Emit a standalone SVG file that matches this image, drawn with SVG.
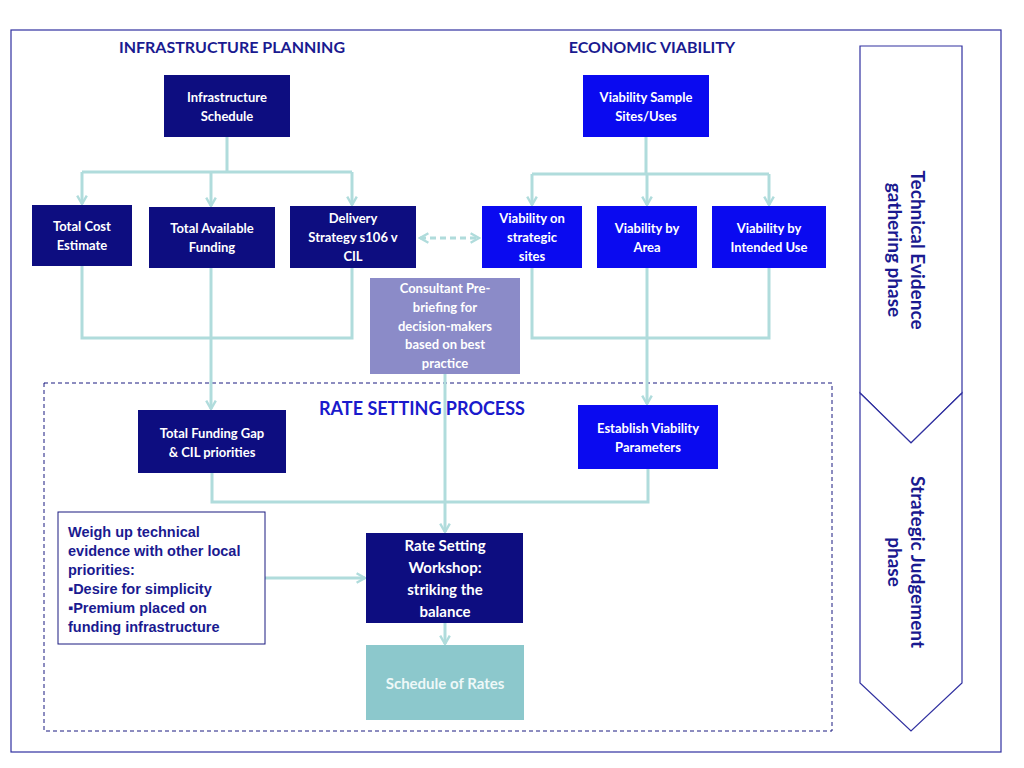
<svg xmlns="http://www.w3.org/2000/svg" width="1024" height="768" viewBox="0 0 1024 768">
<defs>
<marker id="ah" viewBox="0 0 10 10" refX="8" refY="5" markerWidth="4" markerHeight="4" orient="auto-start-reverse"><path d="M1,1 L8,5 L1,9" fill="none" stroke="#b0dcdc" stroke-width="2"/></marker>
<style>
text{font-family:Lato,"Open Sans",sans-serif;font-weight:bold;}
.n{fill:#0d0d80}.b{fill:#0a0af0}
.w{fill:#fff;font-size:13px;text-anchor:middle}
.c{fill:none;stroke:#b0dcdc;stroke-width:3}
.h{fill:#1a1a90;font-size:16px;text-anchor:middle}
</style>
</defs>
<rect width="1024" height="768" fill="#fff"/>
<rect x="11" y="30" width="990" height="722" fill="none" stroke="#3030a0" stroke-width="1.2"/>
<rect x="44" y="383" width="788" height="348" fill="none" stroke="#1a1a80" stroke-dasharray="4,3"/>
<text class="h" x="232" y="53">INFRASTRUCTURE PLANNING</text>
<text class="h" x="652" y="53">ECONOMIC VIABILITY</text>
<text x="422" y="415" style="fill:#1a1acc;font-size:18px;text-anchor:middle">RATE SETTING PROCESS</text>
<g id="phases" fill="#fff" stroke="#3030a0" stroke-width="1.2">
<path d="M860,46 H962 V393 L911,443 L860,393 Z"/>
<path d="M860,393 L911,443 L962,393 V683 L911,731 L860,683 Z"/>
</g>
<text transform="translate(905,250) rotate(90)" style="fill:#1a1a90;font-size:19px;text-anchor:middle"><tspan x="0" y="-6">Technical Evidence</tspan><tspan x="0" y="17">gathering phase</tspan></text>
<text transform="translate(905,562) rotate(90)" style="fill:#1a1a90;font-size:19px;text-anchor:middle"><tspan x="0" y="-6">Strategic Judgement</tspan><tspan x="0" y="17">phase</tspan></text>
<g id="connectors">
<path class="c" d="M227,137 V172 M82,172 H352 M646,137 V174 M532,174 H769"/>
<path class="c" marker-end="url(#ah)" d="M82,172 V204"/>
<path class="c" marker-end="url(#ah)" d="M211,172 V206"/>
<path class="c" marker-end="url(#ah)" d="M352,172 V205"/>
<path class="c" marker-end="url(#ah)" d="M532,174 V205"/>
<path class="c" marker-end="url(#ah)" d="M647,174 V205"/>
<path class="c" marker-end="url(#ah)" d="M769,174 V205"/>
<path class="c" stroke-dasharray="6,4" marker-start="url(#ah)" marker-end="url(#ah)" d="M420,238 H479"/>
<path class="c" d="M82,266 V338 H352 V268 M532,268 V338 H769 V268"/>
<path class="c" marker-end="url(#ah)" d="M211,268 V409"/>
<path class="c" marker-end="url(#ah)" d="M647,268 V404"/>
<path class="c" d="M212,473 V502 H648 V469"/>
<path class="c" marker-end="url(#ah)" d="M445,374 V532"/>
<path class="c" marker-end="url(#ah)" d="M265,578 H365"/>
<path class="c" marker-end="url(#ah)" d="M445,623 V644"/>
</g>
<g id="infra"><rect class="n" x="164" y="75" width="126" height="62"/><text class="w" x="227" y="102">Infrastructure</text><text class="w" x="227" y="121">Schedule</text></g>
<g id="sample"><rect class="b" x="583" y="75" width="126" height="62"/><text class="w" x="646" y="102">Viability Sample</text><text class="w" x="646" y="121">Sites/Uses</text></g>
<g id="cost"><rect class="n" x="32" y="205" width="100" height="61"/><text class="w" x="82" y="231">Total Cost</text><text class="w" x="82" y="250">Estimate</text></g>
<g id="funding"><rect class="n" x="149" y="207" width="126" height="61"/><text class="w" x="212" y="233">Total Available</text><text class="w" x="212" y="252">Funding</text></g>
<g id="delivery"><rect class="n" x="290" y="206" width="126" height="62"/><text class="w" x="353" y="223">Delivery</text><text class="w" x="353" y="242">Strategy  s106 v</text><text class="w" x="353" y="261">CIL</text></g>
<g id="vstrat"><rect class="b" x="482" y="206" width="100" height="62"/><text class="w" x="532" y="223">Viability on</text><text class="w" x="532" y="242">strategic</text><text class="w" x="532" y="261">sites</text></g>
<g id="varea"><rect class="b" x="597" y="206" width="100" height="62"/><text class="w" x="647" y="233">Viability by</text><text class="w" x="647" y="252">Area</text></g>
<g id="vuse"><rect class="b" x="712" y="206" width="114" height="62"/><text class="w" x="769" y="233">Viability by</text><text class="w" x="769" y="252">Intended Use</text></g>
<g id="consult"><rect x="370" y="278" width="150" height="96" fill="#8b8bc8"/><text class="w" x="445" y="293">Consultant Pre-</text><text class="w" x="445" y="312">briefing for</text><text class="w" x="445" y="331">decision-makers</text><text class="w" x="445" y="349">based on best</text><text class="w" x="445" y="368">practice</text></g>
<g id="gap"><rect class="n" x="138" y="410" width="148" height="63"/><text class="w" x="212" y="438">Total Funding Gap</text><text class="w" x="212" y="457">&amp; CIL priorities</text></g>
<g id="params"><rect class="b" x="578" y="405" width="140" height="64"/><text class="w" x="648" y="433">Establish Viability</text><text class="w" x="648" y="452">Parameters</text></g>
<g id="weigh"><rect x="58" y="512" width="207" height="132" fill="#fff" stroke="#1a1a80"/>
<text style="fill:#1a1a90;font-size:14.5px;font-family:'Liberation Sans',Arial,sans-serif"><tspan x="68" y="537">Weigh up technical</tspan><tspan x="68" y="556">evidence with other local</tspan><tspan x="68" y="575">priorities:</tspan><tspan x="68" y="594">▪Desire for simplicity</tspan><tspan x="68" y="613">▪Premium placed on</tspan><tspan x="68" y="632">funding infrastructure</tspan></text></g>
<g id="workshop"><rect class="n" x="366" y="533" width="157" height="90"/><text class="w" style="font-size:15px" x="445" y="551">Rate Setting</text><text class="w" style="font-size:15px" x="445" y="573">Workshop:</text><text class="w" style="font-size:15px" x="445" y="595">striking the</text><text class="w" style="font-size:15px" x="445" y="617">balance</text></g>
<g id="rates"><rect x="366" y="645" width="158" height="75" fill="#8cc8cc"/><text class="w" style="font-size:15px;fill:#eef8f8" x="445" y="689">Schedule of Rates</text></g>
</svg>
